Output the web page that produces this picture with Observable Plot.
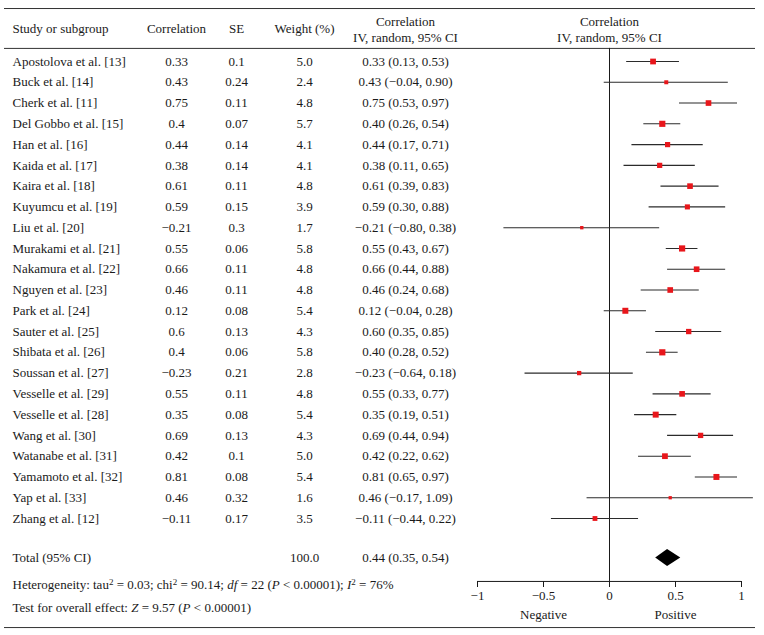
<!DOCTYPE html>
<html>
<head>
<meta charset="utf-8">
<script src="https://cdn.jsdelivr.net/npm/d3@7"></script>
<script src="https://cdn.jsdelivr.net/npm/@observablehq/plot@0.6"></script>
<style>
  html, body { margin: 0; padding: 0; background: #fff; }
  #chart { width: 764px; height: 635px; }
</style>
</head>
<body>
<div id="chart"></div>
<script>
// ---- data ----
const studies = [
  "Apostolova et al. [13]", "Buck et al. [14]", "Cherk et al. [11]", "Del Gobbo et al. [15]",
  "Han et al. [16]", "Kaida et al. [17]", "Kaira et al. [18]", "Kuyumcu et al. [19]",
  "Liu et al. [20]", "Murakami et al. [21]", "Nakamura et al. [22]", "Nguyen et al. [23]",
  "Park et al. [24]", "Sauter et al. [25]", "Shibata et al. [26]", "Soussan et al. [27]",
  "Vesselle et al. [29]", "Vesselle et al. [28]", "Wang et al. [30]", "Watanabe et al. [31]",
  "Yamamoto et al. [32]", "Yap et al. [33]", "Zhang et al. [12]"
];
const correlation = [0.33, 0.43, 0.75, 0.4, 0.44, 0.38, 0.61, 0.59, -0.21, 0.55, 0.66, 0.46,
  0.12, 0.6, 0.4, -0.23, 0.55, 0.35, 0.69, 0.42, 0.81, 0.46, -0.11];
const se = [0.1, 0.24, 0.11, 0.07, 0.14, 0.14, 0.11, 0.15, 0.3, 0.06, 0.11, 0.11,
  0.08, 0.13, 0.06, 0.21, 0.11, 0.08, 0.13, 0.1, 0.08, 0.32, 0.17];
const weight = [5.0, 2.4, 4.8, 5.7, 4.1, 4.1, 4.8, 3.9, 1.7, 5.8, 4.8, 4.8,
  5.4, 4.3, 5.8, 2.8, 4.8, 5.4, 4.3, 5.0, 5.4, 1.6, 3.5];
const ciLow = [0.13, -0.04, 0.53, 0.26, 0.17, 0.11, 0.39, 0.30, -0.80, 0.43, 0.44, 0.24,
  -0.04, 0.35, 0.28, -0.64, 0.33, 0.19, 0.44, 0.22, 0.65, -0.17, -0.44];
const ciHigh = [0.53, 0.90, 0.97, 0.54, 0.71, 0.65, 0.83, 0.88, 0.38, 0.67, 0.88, 0.68,
  0.28, 0.85, 0.52, 0.18, 0.77, 0.51, 0.94, 0.62, 0.97, 1.09, 0.22];

const totalLabel = "Total (95% CI)";
const totalWeight = 100.0;
const totalEstimate = 0.44;
const totalLow = 0.35;
const totalHigh = 0.54;

const axisTicks = [-1, -0.5, 0, 0.5, 1];
const headers = ["Study or subgroup", "Correlation", "SE", "Weight (%)", "Correlation\nIV, random, 95% CI"];
const forestHeader = "Correlation\nIV, random, 95% CI";
const sideLabels = ["Negative", "Positive"];
const sideValues = [-0.5, 0.5];
const heterogeneity = "Heterogeneity: tau^2^ = 0.03; chi^2^ = 90.14; *df* = 22 (*P* < 0.00001); *I*^2^ = 76%";
const overallTest = "Test for overall effect: *Z* = 9.57 (*P* < 0.00001)";

// ---- layout (row units of the y scale) ----
const ROW_TOP = -2.55, ROW_HEAD = -0.63, ROW_AXIS = 25.03, ROW_BOTTOM = 27.25;
const ROW_TOTAL = 23.9, DIAMOND_HALF = 0.41;

const minus = s => s.replace("-", "\u2212");
const rows = studies.map((s, i) => ({
  i, study: s, r: correlation[i], se: se[i], w: weight[i], lo: ciLow[i], hi: ciHigh[i]
}));
const diamond = [
  {x: totalLow, y1: ROW_TOTAL, y2: ROW_TOTAL},
  {x: totalEstimate, y1: ROW_TOTAL - DIAMOND_HALF, y2: ROW_TOTAL + DIAMOND_HALF},
  {x: totalHigh, y1: ROW_TOTAL, y2: ROW_TOTAL}
];
const ciText = (e, l, h) => minus(e.toFixed(2)) + " (" + minus(l.toFixed(2)) + ", " + minus(h.toFixed(2)) + ")";

const INK = "#1a1a1a";
const FS = 13;
const colStudy = 8, colCorr = 172, colSE = 232, colW = 300, colCI = 401; // dx from frame left (x=4)
const T = {fontSize: FS, fill: INK, lineAnchor: "middle"};

const chart = Plot.plot({
  width: 764,
  height: 635,
  marginLeft: 4,
  marginRight: 9,
  marginTop: 0,
  marginBottom: 54,
  style: {fontFamily: "'Liberation Serif', 'Times New Roman', serif", fontSize: "13px", color: INK, background: "#fff", overflow: "visible"},
  x: {domain: [-1, 1], range: [477, 741]},
  y: {domain: [0, 22], range: [61, 518], axis: null},
  r: {type: "sqrt", domain: [0, 5.8], range: [0, 3.5]},
  marks: [
    // rules
    Plot.ruleY([ROW_TOP, ROW_HEAD, ROW_BOTTOM], {stroke: "#333", strokeWidth: 1}),
    Plot.ruleX([0], {y1: ROW_HEAD, y2: ROW_AXIS, stroke: INK, strokeWidth: 1}),
    Plot.ruleY([ROW_AXIS], {x1: axisTicks[0], x2: axisTicks[axisTicks.length - 1], stroke: INK}),
    Plot.axisX({ticks: axisTicks, tickFormat: d => (d < 0 ? "\u2212" : "") + Math.abs(d), tickSize: 6, tickPadding: 3, fontSize: FS, stroke: INK, fill: INK}),
    // headers
    Plot.text([headers[0]], {...T, frameAnchor: "top-left", dx: colStudy, dy: 28, textAnchor: "start"}),
    Plot.text([headers[1]], {...T, frameAnchor: "top-left", dx: colCorr, dy: 28, textAnchor: "middle"}),
    Plot.text([headers[2]], {...T, frameAnchor: "top-left", dx: colSE, dy: 28, textAnchor: "middle"}),
    Plot.text([headers[3]], {...T, frameAnchor: "top-left", dx: colW, dy: 28, textAnchor: "middle"}),
    Plot.text([headers[4]], {...T, frameAnchor: "top-left", dx: colCI, dy: 28, textAnchor: "middle", lineHeight: 1.25}),
    Plot.text([0], {...T, x: d => d, text: () => forestHeader, frameAnchor: "top", dy: 28, textAnchor: "middle", lineHeight: 1.25}),
    // table rows
    Plot.text(rows, {...T, y: "i", text: "study", frameAnchor: "left", dx: colStudy, textAnchor: "start"}),
    Plot.text(rows, {...T, y: "i", text: d => minus(String(d.r)), frameAnchor: "left", dx: colCorr, textAnchor: "middle"}),
    Plot.text(rows, {...T, y: "i", text: d => String(d.se), frameAnchor: "left", dx: colSE, textAnchor: "middle"}),
    Plot.text(rows, {...T, y: "i", text: d => d.w.toFixed(1), frameAnchor: "left", dx: colW, textAnchor: "middle"}),
    Plot.text(rows, {...T, y: "i", text: d => ciText(d.r, d.lo, d.hi), frameAnchor: "left", dx: colCI, textAnchor: "middle"}),
    // total row
    Plot.text([totalLabel], {...T, y: () => ROW_TOTAL, frameAnchor: "left", dx: colStudy, textAnchor: "start"}),
    Plot.text([totalWeight], {...T, y: () => ROW_TOTAL, text: d => d.toFixed(1), frameAnchor: "left", dx: colW, textAnchor: "middle"}),
    Plot.text([0], {...T, y: () => ROW_TOTAL, text: () => ciText(totalEstimate, totalLow, totalHigh), frameAnchor: "left", dx: colCI, textAnchor: "middle"}),
    // footnotes
    Plot.text([heterogeneity], {...T, frameAnchor: "bottom-left", dx: colStudy, dy: 3.5, textAnchor: "start"}),
    Plot.text([overallTest], {...T, frameAnchor: "bottom-left", dx: colStudy, dy: 26.5, textAnchor: "start"}),
    // forest
    Plot.ruleY(rows, {y: "i", x1: "lo", x2: "hi", stroke: "#2b2b2b", strokeWidth: 1.1}),
    Plot.dot(rows, {x: "r", y: "i", r: "w", symbol: "square", fill: "#e8161b", stroke: null}),
    Plot.areaY(diamond, {x: "x", y1: "y1", y2: "y2", fill: "#000"}),
    Plot.text(sideLabels, {...T, x: (d, i) => sideValues[i], frameAnchor: "bottom", dy: 33, textAnchor: "middle"})
  ]
});

// rich text: *italic* and ^superscript^
chart.querySelectorAll("text").forEach(t => {
  const s = t.textContent;
  if (t.children.length || !/[*^]/.test(s)) return;
  const parts = s.split(/(\*[^*]+\*|\^[^^]+\^)/).filter(p => p.length);
  while (t.firstChild) t.removeChild(t.firstChild);
  const NS = "http://www.w3.org/2000/svg";
  let pending = 0;
  parts.forEach(p => {
    const ts = document.createElementNS(NS, "tspan");
    if (p.startsWith("^")) {
      ts.textContent = p.slice(1, -1);
      ts.setAttribute("font-size", "9");
      ts.setAttribute("dy", String(pending - 4));
      pending = 4;
    } else {
      const italic = p.startsWith("*");
      ts.textContent = italic ? p.slice(1, -1) : p;
      if (italic) ts.setAttribute("font-style", "italic");
      if (pending) { ts.setAttribute("dy", String(pending)); pending = 0; }
    }
    t.appendChild(ts);
  });
});

document.getElementById("chart").appendChild(chart);
</script>
</body>
</html>
